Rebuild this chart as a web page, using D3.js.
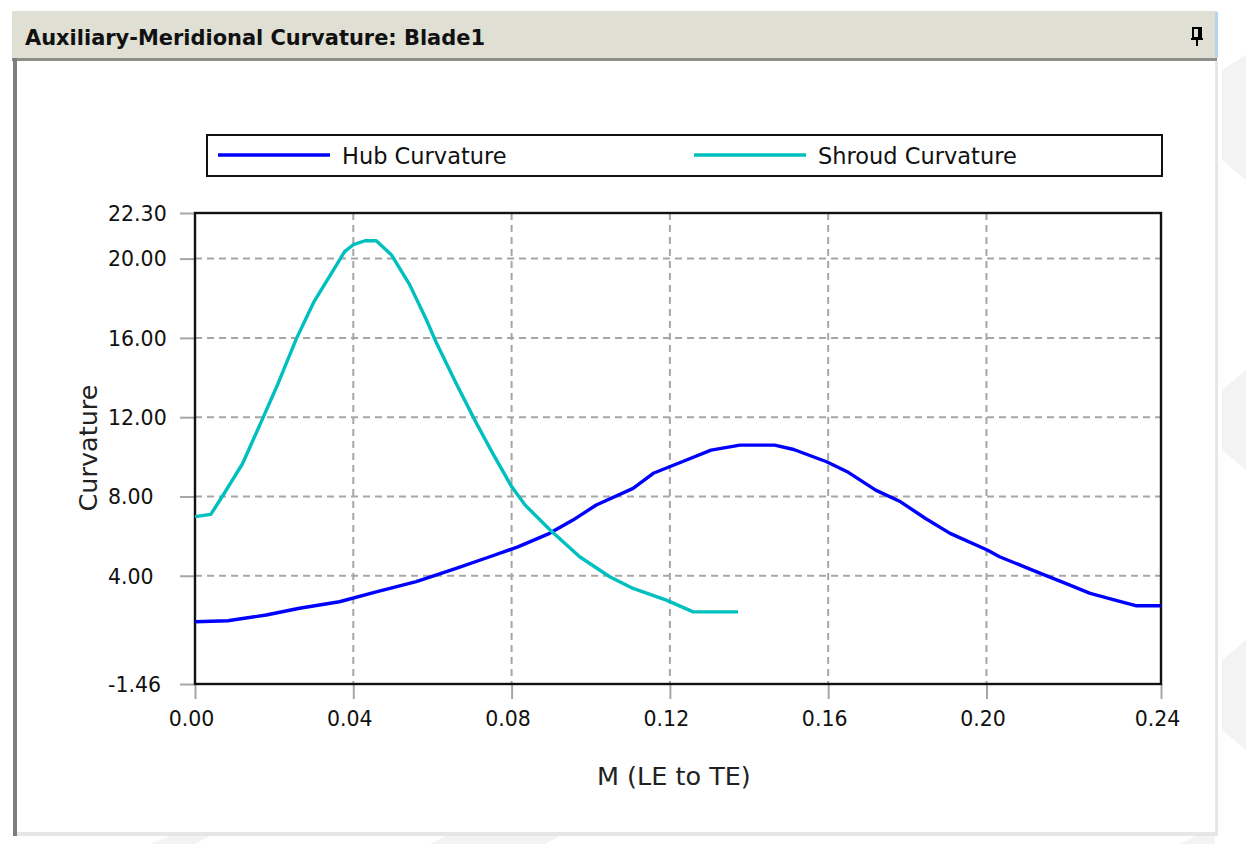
<!DOCTYPE html>
<html>
<head>
<meta charset="utf-8">
<script src="https://cdn.jsdelivr.net/npm/d3@7"></script>
<style>
  html, body { margin: 0; padding: 0; background: #fff; }
  svg { display: block; }
</style>
</head>
<body>
<svg id="chart" width="1246" height="844"></svg>
<script>
// values
const hubM = [0, 0.0083, 0.018, 0.0264, 0.0365, 0.0458, 0.0559, 0.066, 0.0745, 0.0816, 0.0896, 0.0955, 0.1014, 0.1107, 0.1158, 0.1231, 0.1304, 0.1377, 0.1465, 0.1513, 0.1596, 0.1648, 0.172, 0.1783, 0.1846, 0.1908, 0.2002, 0.2033, 0.2127, 0.22, 0.2262, 0.2325, 0.2377, 0.2441];
const hubCurv = [1.68, 1.73, 2.02, 2.36, 2.69, 3.19, 3.70, 4.37, 4.96, 5.46, 6.14, 6.81, 7.57, 8.41, 9.17, 9.75, 10.34, 10.59, 10.59, 10.37, 9.75, 9.25, 8.32, 7.73, 6.89, 6.14, 5.30, 4.96, 4.20, 3.62, 3.11, 2.77, 2.49, 2.49];

const shroudM = [0, 0.004, 0.0072, 0.012, 0.0167, 0.021, 0.0256, 0.030, 0.034, 0.0378, 0.040, 0.043, 0.0458, 0.0496, 0.0542, 0.0585, 0.061, 0.066, 0.0711, 0.0753, 0.080, 0.0835, 0.0898, 0.0972, 0.1048, 0.1107, 0.1191, 0.1259, 0.1372];
const shroudCurv = [6.98, 7.1, 8.1, 9.65, 11.75, 13.7, 15.95, 17.8, 19.1, 20.35, 20.7, 20.9, 20.9, 20.2, 18.7, 16.9, 15.75, 13.7, 11.7, 10.15, 8.5, 7.55, 6.3, 4.96, 3.95, 3.36, 2.77, 2.18, 2.18];

const seriesNames = ["Hub Curvature", "Shroud Curvature"];
const xTicks = [0, 0.04, 0.08, 0.12, 0.16, 0.20];
const xMax = 0.2441;
const yTicks = [-1.46, 4, 8, 12, 16, 20, 22.30];
const yMin = -1.46, yMax = 22.30;

const titleText = "Auxiliary-Meridional Curvature: Blade1";
const xTitle = "M (LE to TE)";
const yTitle = "Curvature";

const colors = ["#0000ff", "#00bfbf"];
const font = "'DejaVu Sans', Verdana, sans-serif";
// plain hyphen for negatives, like the original
const fmt = d => d3.format(".2f")(d).replace("\u2212", "-");

const svg = d3.select("#chart");

// faint background shapes outside the window
const bgShapes = [
  [[1222, 70], [1246, 55], [1246, 180], [1222, 160]],
  [[1222, 390], [1246, 370], [1246, 470], [1222, 450]],
  [[1222, 660], [1246, 640], [1246, 750], [1222, 730]],
  [[150, 844], [170, 836], [210, 836], [195, 844]],
  [[430, 844], [445, 836], [560, 836], [545, 844]],
  [[1180, 844], [1195, 836], [1215, 836], [1215, 844]]
];
svg.selectAll("polygon.bg").data(bgShapes).join("polygon")
  .attr("class", "bg")
  .attr("points", d => d.map(p => p.join(",")).join(" "))
  .attr("fill", "#f3f3f3");

// window frame
svg.append("rect").attr("x", 12).attr("y", 11).attr("width", 1205).attr("height", 48).attr("fill", "#dfdfd3");
svg.append("rect").attr("x", 1215).attr("y", 12).attr("width", 3).attr("height", 46).attr("fill", "#b8d3ee");
svg.append("rect").attr("x", 12).attr("y", 58).attr("width", 1205).attr("height", 3).attr("fill", "#8e8e88");
svg.append("rect").attr("x", 17).attr("y", 61).attr("width", 1198).attr("height", 772).attr("fill", "#fff");
svg.append("rect").attr("x", 13).attr("y", 58).attr("width", 4).attr("height", 778).attr("fill", "#7d7d7d");
svg.append("rect").attr("x", 17).attr("y", 832).attr("width", 1200).attr("height", 4).attr("fill", "#e6e6e6");
svg.append("rect").attr("x", 1215).attr("y", 61).attr("width", 3).attr("height", 775).attr("fill", "#e6e6e6");

svg.append("text")
  .attr("x", 25).attr("y", 45)
  .attr("font-family", "'DejaVu Sans Condensed', 'DejaVu Sans', sans-serif")
  .attr("font-size", 21).attr("font-weight", "bold")
  .attr("textLength", 460).attr("lengthAdjust", "spacingAndGlyphs")
  .attr("fill", "#111")
  .text(titleText);

// pin icon
const pin = svg.append("g").attr("transform", "translate(1197,28)").attr("fill", "#000");
pin.append("rect").attr("x", -4).attr("y", 0).attr("width", 8).attr("height", 10).attr("fill", "none").attr("stroke", "#000").attr("stroke-width", 2);
pin.append("rect").attr("x", 1).attr("y", 0).attr("width", 2).attr("height", 10);
pin.append("rect").attr("x", -6).attr("y", 10).attr("width", 12).attr("height", 2);
pin.append("rect").attr("x", -1).attr("y", 12).attr("width", 2).attr("height", 6);

// scales
const x = d3.scaleLinear().domain([0, xMax]).range([195, 1161]);
const y = d3.scaleLinear().domain([yMin, yMax]).range([684, 213]);

// grid
const grid = svg.append("g").attr("stroke", "#a6a6a6").attr("stroke-width", 2).attr("stroke-dasharray", "7,5");
grid.selectAll("line.gx").data(xTicks.slice(1)).join("line")
  .attr("x1", d => x(d)).attr("x2", d => x(d))
  .attr("y1", y(yMax)).attr("y2", y(yMin));
grid.selectAll("line.gy").data(yTicks.slice(1, -1)).join("line")
  .attr("y1", d => y(d)).attr("y2", d => y(d))
  .attr("x1", x(0)).attr("x2", x(xMax));

// axes
const xAxis = d3.axisBottom(x).tickValues(xTicks.concat([xMax])).tickFormat(fmt).tickSize(15).tickPadding(12);
const yAxis = d3.axisLeft(y).tickValues(yTicks).tickFormat(fmt).tickSize(15);

const gx = svg.append("g").attr("transform", `translate(0,${y(yMin)})`).call(xAxis);
const gy = svg.append("g").attr("transform", `translate(${x(0)},0)`).call(yAxis);

[gx, gy].forEach(g => {
  g.select(".domain").remove();
  g.selectAll(".tick line").attr("stroke", "#a6a6a6").attr("stroke-width", 2);
  g.selectAll(".tick text").attr("font-family", font).attr("font-size", 20.5).attr("fill", "#111");
});
gx.selectAll(".tick text").attr("dx", -4);
gy.selectAll(".tick text").attr("text-anchor", "start").attr("x", 108 - 195).attr("dy", "0.36em");

// plot frame
svg.append("rect")
  .attr("x", x(0)).attr("y", y(yMax))
  .attr("width", x(xMax) - x(0)).attr("height", y(yMin) - y(yMax))
  .attr("fill", "none").attr("stroke", "#111").attr("stroke-width", 2.4);

// axis titles
svg.append("text")
  .attr("x", x(0.12) + 4).attr("y", 785)
  .attr("text-anchor", "middle")
  .attr("font-family", font).attr("font-size", 25.5).attr("fill", "#222")
  .text(xTitle);
svg.append("text")
  .attr("transform", "translate(97,448) rotate(-90)")
  .attr("text-anchor", "middle")
  .attr("font-family", font).attr("font-size", 25.5).attr("fill", "#222")
  .text(yTitle);

// lines
const series = [
  hubM.map((m, i) => [m, hubCurv[i]]),
  shroudM.map((m, i) => [m, shroudCurv[i]])
];
const line = d3.line().x(d => x(d[0])).y(d => y(d[1]));
svg.selectAll("path.series").data(series).join("path")
  .attr("class", "series")
  .attr("d", line)
  .attr("fill", "none")
  .attr("stroke", (d, i) => colors[i])
  .attr("stroke-width", 3.4)
  .attr("stroke-linejoin", "round");

// legend
svg.append("rect").attr("x", 207).attr("y", 135).attr("width", 955).attr("height", 41)
  .attr("fill", "#fff").attr("stroke", "#111").attr("stroke-width", 2);
const legendX = [218, 694];
const leg = svg.selectAll("g.leg").data(seriesNames).join("g")
  .attr("class", "leg")
  .attr("transform", (d, i) => `translate(${legendX[i]},155)`);
leg.append("line").attr("x1", 0).attr("x2", 112).attr("y1", 0).attr("y2", 0)
  .attr("stroke", (d, i) => colors[i]).attr("stroke-width", 3.4);
leg.append("text").attr("x", 124).attr("y", 9)
  .attr("font-family", font).attr("font-size", 22.5).attr("fill", "#111")
  .text(d => d);
</script>
</body>
</html>
